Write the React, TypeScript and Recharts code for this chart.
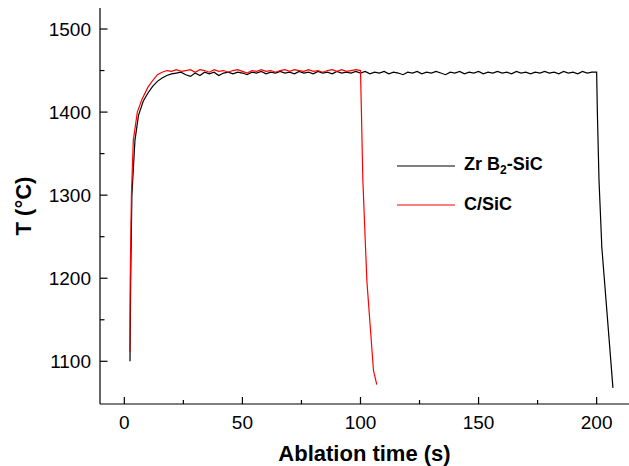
import React from 'react';
import { LineChart, Line, XAxis, YAxis, Legend } from 'recharts';

// ZrB2-SiC: ramp, plateau to 200 s, cooling
const zrTime = [
  2.4, 2.7, 3.2, 4.5, 6, 8, 10, 12, 14, 16, 18,
  20, 22, 24, 26, 28, 30, 32, 34, 36, 38, 40, 42, 44, 46, 48,
  50, 52, 54, 56, 58, 60, 62, 64, 66, 68, 70, 72, 74, 76, 78,
  80, 82, 84, 86, 88, 90, 92, 94, 96, 98, 100, 102, 104, 106, 108,
  110, 112, 114, 116, 118, 120, 122, 124, 126, 128, 130, 132, 134, 136, 138,
  140, 142, 144, 146, 148, 150, 152, 154, 156, 158, 160, 162, 164, 166, 168,
  170, 172, 174, 176, 178, 180, 182, 184, 186, 188, 190, 192, 194, 196, 198,
  200, 200.3, 201, 202.2, 204.4, 206.9,
];
const zrTemp = [
  1100, 1200, 1300, 1366, 1396, 1413, 1423, 1431, 1437, 1441, 1444,
  1446, 1447, 1448, 1445, 1443, 1447, 1444, 1448, 1446, 1448, 1444, 1447, 1448, 1446, 1448,
  1447, 1445, 1448, 1447, 1449, 1446, 1448, 1447, 1449, 1447, 1448, 1446, 1449, 1447, 1448,
  1446, 1449, 1447, 1448, 1446, 1449, 1447, 1448, 1447, 1449, 1447, 1449, 1446, 1448, 1447,
  1449, 1446, 1448, 1447, 1445, 1448, 1447, 1449, 1446, 1448, 1447, 1449, 1447, 1445, 1448,
  1447, 1449, 1446, 1448, 1447, 1449, 1446, 1448, 1447, 1449, 1447, 1448, 1446, 1449, 1447,
  1448, 1446, 1448, 1447, 1449, 1447, 1448, 1446, 1449, 1447, 1448, 1446, 1449, 1447, 1448,
  1448, 1400, 1318, 1237, 1158, 1068,
];

// C/SiC: ramp, plateau to 100 s, cooling
const csTime = [
  2.3, 2.5, 3.0, 3.8, 5.5, 7.4, 10, 12, 14,
  16, 18, 20, 22, 24, 26, 28, 30, 32, 34, 36, 38, 40, 42, 44, 46, 48,
  50, 52, 54, 56, 58, 60, 62, 64, 66, 68, 70, 72, 74, 76, 78,
  80, 82, 84, 86, 88, 90, 92, 94, 96, 98, 100,
  100.4, 101, 102.7, 105.5, 106.9,
];
const csTemp = [
  1111, 1200, 1300, 1366, 1400, 1415, 1430, 1438, 1445,
  1448, 1450, 1449, 1451, 1449, 1450, 1451, 1448, 1451, 1450, 1448, 1451, 1449, 1450, 1448, 1450, 1451,
  1449, 1447, 1450, 1449, 1451, 1449, 1450, 1448, 1450, 1451, 1449, 1451, 1450, 1449, 1451,
  1449, 1450, 1448, 1450, 1451, 1449, 1451, 1449, 1450, 1451, 1450,
  1400, 1318, 1197, 1089, 1072,
];

const xTicks = [0, 25, 50, 75, 100, 125, 150, 175, 200];
const yTicks = [1100, 1150, 1200, 1250, 1300, 1350, 1400, 1450, 1500];

const zrData = zrTime.map((t, i) => ({ t, T: zrTemp[i] }));
const csData = csTime.map((t, i) => ({ t, T: csTemp[i] }));

const FONT = '"Liberation Sans", Arial, Helvetica, sans-serif';
const X_MARGIN = 20;
const Y_MARGIN = 9;
const TOP_MARGIN = 4;

const BottomTick = (props: any) => {
  const { x, y, payload } = props;
  const major = payload.value % 50 === 0;
  const axisY = y - X_MARGIN;
  return (
    <g>
      <line x1={x} x2={x} y1={axisY} y2={axisY - (major ? 7 : 4)} stroke="#000" strokeWidth={1.2} />
      {major && (
        <text x={x} y={axisY + 25} textAnchor="middle" fontSize={19} fontFamily={FONT} fill="#000">
          {payload.value}
        </text>
      )}
    </g>
  );
};

const TopTick = (props: any) => {
  const { x, y, payload } = props;
  const major = payload.value % 50 === 0;
  const axisY = y + TOP_MARGIN;
  return <line x1={x} x2={x} y1={axisY} y2={axisY + (major ? 3 : 2)} stroke="#000" strokeWidth={1} />;
};

const LeftTick = (props: any) => {
  const { x, y, payload } = props;
  const major = payload.value % 100 === 0;
  const axisX = x + Y_MARGIN;
  return (
    <g>
      <line x1={axisX} x2={axisX + (major ? 7.5 : 4.5)} y1={y} y2={y} stroke="#000" strokeWidth={1.2} />
      {major && (
        <text x={axisX - 9} y={y} dy="0.35em" textAnchor="end" fontSize={19} fontFamily={FONT} fill="#000">
          {payload.value}
        </text>
      )}
    </g>
  );
};

const renderLegend = () => (
  <div style={{ fontFamily: FONT, fontWeight: 'bold', fontSize: 18, color: '#000' }}>
    {[
      { name: 'zr', color: '#000' },
      { name: 'cs', color: '#ff0000' },
    ].map((item) => (
      <div key={item.name} style={{ display: 'flex', alignItems: 'center', height: 39 }}>
        <svg width={58} height={4} style={{ marginRight: 9 }}>
          <line x1={0} x2={58} y1={2} y2={2} stroke={item.color} strokeWidth={1.2} />
        </svg>
        {item.name === 'zr' ? (
          <span>
            Zr B<sub style={{ fontSize: 12, verticalAlign: '-4px' }}>2</sub>-SiC
          </span>
        ) : (
          <span>C/SiC</span>
        )}
      </div>
    ))}
  </div>
);

export default function App() {
  return (
    <div style={{ position: 'absolute', left: 0, top: 0, background: '#fff' }}>
      <LineChart width={629} height={466} margin={{ top: 8, right: 0, bottom: 0, left: 0 }}>
        <XAxis
          xAxisId="b"
          type="number"
          dataKey="t"
          domain={[-10.3, 213.7]}
          ticks={xTicks}
          interval={0}
          allowDataOverflow
          height={62}
          tickLine={false}
          tickSize={0}
          tickMargin={X_MARGIN}
          tick={<BottomTick />}
          axisLine={{ stroke: '#000', strokeWidth: 1.2 }}
          label={{
            content: (p: any) => (
              <text
                x={p.viewBox.x + p.viewBox.width / 2}
                y={p.viewBox.y + 57}
                textAnchor="middle"
                fontSize={22}
                fontWeight="bold"
                fontFamily={FONT}
                fill="#000"
              >
                Ablation time (s)
              </text>
            ),
          }}
        />
        <XAxis
          xAxisId="t"
          orientation="top"
          type="number"
          dataKey="t"
          domain={[-10.3, 213.7]}
          ticks={xTicks}
          interval={0}
          allowDataOverflow
          height={0}
          tickLine={false}
          tickSize={0}
          tickMargin={TOP_MARGIN}
          tick={<TopTick />}
          axisLine={{ stroke: '#000', strokeWidth: 1.2 }}
        />
        <YAxis
          type="number"
          domain={[1048.6, 1525.3]}
          ticks={yTicks}
          interval={0}
          allowDataOverflow
          width={100}
          tickLine={false}
          tickSize={0}
          tickMargin={Y_MARGIN}
          tick={<LeftTick />}
          axisLine={{ stroke: '#000', strokeWidth: 1.2 }}
          label={{
            content: (p: any) => (
              <text
                x={23}
                y={p.viewBox.y + p.viewBox.height / 2}
                transform={`rotate(-90 23 ${p.viewBox.y + p.viewBox.height / 2})`}
                textAnchor="middle"
                dominantBaseline="central"
                fontSize={22}
                fontWeight="bold"
                fontFamily={FONT}
                fill="#000"
              >
                T (°C)
              </text>
            ),
          }}
        />
        <Legend
          layout="horizontal"
          verticalAlign="middle"
          align="center"
          content={renderLegend}
          wrapperStyle={{ left: 397, top: 146, width: 200 }}
        />
        <Line
          xAxisId="b"
          data={zrData}
          dataKey="T"
          type="linear"
          stroke="#000"
          strokeWidth={1.2}
          dot={false}
          isAnimationActive={false}
        />
        <Line
          xAxisId="b"
          data={csData}
          dataKey="T"
          type="linear"
          stroke="#ff0000"
          strokeWidth={1.2}
          dot={false}
          isAnimationActive={false}
        />
      </LineChart>
    </div>
  );
}
